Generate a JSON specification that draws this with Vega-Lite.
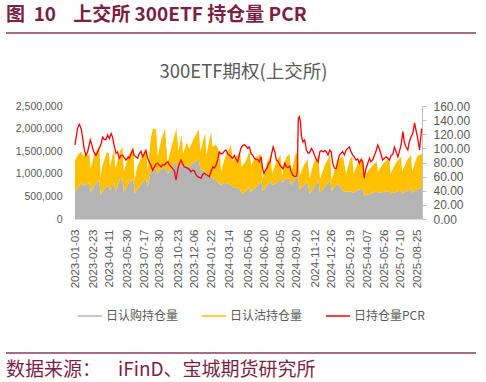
{
  "$schema": "https://vega.github.io/schema/vega-lite/v6.json",
  "background": "white",
  "padding": {"left": 5, "top": 6, "right": 2, "bottom": 1},
  "spacing": 28,
  "datasets": {
    "oi": [
      {"date": "2023-01-03", "日认购持仓量": 600000, "日认沽持仓量": 700000},
      {"date": "2023-01-11", "日认购持仓量": 680000, "日认沽持仓量": 740000},
      {"date": "2023-01-20", "日认购持仓量": 790000, "日认沽持仓量": 700000},
      {"date": "2023-01-26", "日认购持仓量": 740000, "日认沽持仓量": 660000},
      {"date": "2023-02-03", "日认购持仓量": 760000, "日认沽持仓量": 660000},
      {"date": "2023-02-13", "日认购持仓量": 800000, "日认沽持仓量": 620000},
      {"date": "2023-02-16", "日认购持仓量": 600000, "日认沽持仓量": 520000},
      {"date": "2023-02-28", "日认购持仓量": 760000, "日认沽持仓量": 690000},
      {"date": "2023-03-13", "日认购持仓量": 860000, "日认沽持仓量": 740000},
      {"date": "2023-03-16", "日认购持仓量": 515000, "日认沽持仓量": 385000},
      {"date": "2023-03-20", "日认购持仓量": 600000, "日认沽持仓量": 550000},
      {"date": "2023-04-03", "日认购持仓量": 730000, "日认沽持仓量": 750000},
      {"date": "2023-04-09", "日认购持仓量": 740000, "日认沽持仓量": 710000},
      {"date": "2023-04-12", "日认购持仓量": 620000, "日认沽持仓量": 530000},
      {"date": "2023-04-23", "日认购持仓量": 800000, "日认沽持仓量": 760000},
      {"date": "2023-04-27", "日认购持仓量": 600000, "日认沽持仓量": 520000},
      {"date": "2023-05-10", "日认购持仓量": 880000, "日认沽持仓量": 620000},
      {"date": "2023-05-17", "日认购持仓量": 910000, "日认沽持仓量": 690000},
      {"date": "2023-05-21", "日认购持仓量": 600000, "日认沽持仓量": 450000},
      {"date": "2023-06-04", "日认购持仓量": 800000, "日认沽持仓量": 620000},
      {"date": "2023-06-17", "日认购持仓量": 890000, "日认沽持仓量": 710000},
      {"date": "2023-06-20", "日认购持仓量": 560000, "日认沽持仓量": 290000},
      {"date": "2023-06-27", "日认购持仓量": 650000, "日认沽持仓量": 500000},
      {"date": "2023-07-17", "日认购持仓量": 850000, "日认沽持仓量": 650000},
      {"date": "2023-07-22", "日认购持仓量": 900000, "日认沽持仓量": 650000},
      {"date": "2023-07-27", "日认购持仓量": 720000, "日认沽持仓量": 360000},
      {"date": "2023-08-05", "日认购持仓量": 1050000, "日认沽持仓量": 750000},
      {"date": "2023-08-11", "日认购持仓量": 1100000, "日认沽持仓量": 900000},
      {"date": "2023-08-20", "日认购持仓量": 1120000, "日认沽持仓量": 860000},
      {"date": "2023-08-24", "日认购持仓量": 1000000, "日认沽持仓量": 380000},
      {"date": "2023-09-03", "日认购持仓量": 1100000, "日认沽持仓量": 650000},
      {"date": "2023-09-14", "日认购持仓量": 1150000, "日认沽持仓量": 850000},
      {"date": "2023-09-21", "日认购持仓量": 1000000, "日认沽持仓量": 250000},
      {"date": "2023-10-04", "日认购持仓量": 1150000, "日认沽持仓量": 500000},
      {"date": "2023-10-16", "日认购持仓量": 1280000, "日认沽持仓量": 720000},
      {"date": "2023-10-22", "日认购持仓量": 1150000, "日认沽持仓量": 350000},
      {"date": "2023-10-31", "日认购持仓量": 1200000, "日认沽持仓量": 660000},
      {"date": "2023-11-04", "日认购持仓量": 1150000, "日认沽持仓量": 300000},
      {"date": "2023-11-15", "日认购持仓量": 1200000, "日认沽持仓量": 500000},
      {"date": "2023-11-21", "日认购持仓量": 1150000, "日认沽持仓量": 400000},
      {"date": "2023-12-05", "日认购持仓量": 1250000, "日认沽持仓量": 550000},
      {"date": "2023-12-18", "日认购持仓量": 1320000, "日认沽持仓量": 660000},
      {"date": "2023-12-23", "日认购持仓量": 1100000, "日认沽持仓量": 400000},
      {"date": "2024-01-05", "日认购持仓量": 1050000, "日认沽持仓量": 850000},
      {"date": "2024-01-09", "日认购持仓量": 1000000, "日认沽持仓量": 420000},
      {"date": "2024-01-22", "日认购持仓量": 950000, "日认沽持仓量": 980000},
      {"date": "2024-01-26", "日认购持仓量": 900000, "日认沽持仓量": 700000},
      {"date": "2024-02-05", "日认购持仓量": 850000, "日认沽持仓量": 800000},
      {"date": "2024-02-15", "日认购持仓量": 780000, "日认沽持仓量": 670000},
      {"date": "2024-02-19", "日认购持仓量": 760000, "日认沽持仓量": 290000},
      {"date": "2024-03-01", "日认购持仓量": 800000, "日认沽持仓量": 550000},
      {"date": "2024-03-18", "日认购持仓量": 750000, "日认沽持仓量": 890000},
      {"date": "2024-03-23", "日认购持仓量": 700000, "日认沽持仓量": 570000},
      {"date": "2024-04-01", "日认购持仓量": 700000, "日认沽持仓量": 680000},
      {"date": "2024-04-13", "日认购持仓量": 650000, "日认沽持仓量": 800000},
      {"date": "2024-04-17", "日认购持仓量": 560000, "日认沽持仓量": 590000},
      {"date": "2024-04-30", "日认购持仓量": 620000, "日认沽持仓量": 680000},
      {"date": "2024-05-09", "日认购持仓量": 700000, "日认沽持仓量": 800000},
      {"date": "2024-05-14", "日认购持仓量": 600000, "日认沽持仓量": 600000},
      {"date": "2024-05-25", "日认购持仓量": 680000, "日认沽持仓量": 670000},
      {"date": "2024-06-07", "日认购持仓量": 800000, "日认沽持仓量": 620000},
      {"date": "2024-06-12", "日认购持仓量": 860000, "日认沽持仓量": 540000},
      {"date": "2024-06-15", "日认购持仓量": 620000, "日认沽持仓量": 260000},
      {"date": "2024-06-28", "日认购持仓量": 740000, "日认沽持仓量": 510000},
      {"date": "2024-07-08", "日认购持仓量": 850000, "日认沽持仓量": 570000},
      {"date": "2024-07-12", "日认购持仓量": 750000, "日认沽持仓量": 250000},
      {"date": "2024-07-26", "日认购持仓量": 800000, "日认沽持仓量": 500000},
      {"date": "2024-08-05", "日认购持仓量": 900000, "日认沽持仓量": 520000},
      {"date": "2024-08-09", "日认购持仓量": 800000, "日认沽持仓量": 150000},
      {"date": "2024-08-20", "日认购持仓量": 880000, "日认沽持仓量": 470000},
      {"date": "2024-08-30", "日认购持仓量": 900000, "日认沽持仓量": 550000},
      {"date": "2024-09-04", "日认购持仓量": 750000, "日认沽持仓量": 270000},
      {"date": "2024-09-15", "日认购持仓量": 880000, "日认沽持仓量": 520000},
      {"date": "2024-09-23", "日认购持仓量": 970000, "日认沽持仓量": 530000},
      {"date": "2024-09-28", "日认购持仓量": 650000, "日认沽持仓量": 300000},
      {"date": "2024-10-07", "日认购持仓量": 720000, "日认沽持仓量": 430000},
      {"date": "2024-10-20", "日认购持仓量": 830000, "日认沽持仓量": 500000},
      {"date": "2024-10-26", "日认购持仓量": 560000, "日认沽持仓量": 340000},
      {"date": "2024-11-07", "日认购持仓量": 700000, "日认沽持仓量": 550000},
      {"date": "2024-11-20", "日认购持仓量": 860000, "日认沽持仓量": 560000},
      {"date": "2024-11-24", "日认购持仓量": 580000, "日认沽持仓量": 300000},
      {"date": "2024-12-08", "日认购持仓量": 700000, "日认沽持仓量": 500000},
      {"date": "2024-12-23", "日认购持仓量": 860000, "日认沽持仓量": 560000},
      {"date": "2024-12-27", "日认购持仓量": 620000, "日认沽持仓量": 230000},
      {"date": "2025-01-03", "日认购持仓量": 700000, "日认沽持仓量": 350000},
      {"date": "2025-01-14", "日认购持仓量": 780000, "日认沽持仓量": 520000},
      {"date": "2025-01-28", "日认购持仓量": 620000, "日认沽持仓量": 760000},
      {"date": "2025-02-06", "日认购持仓量": 600000, "日认沽持仓量": 400000},
      {"date": "2025-02-17", "日认购持仓量": 620000, "日认沽持仓量": 700000},
      {"date": "2025-02-23", "日认购持仓量": 600000, "日认沽持仓量": 780000},
      {"date": "2025-02-27", "日认购持仓量": 580000, "日认沽持仓量": 420000},
      {"date": "2025-03-12", "日认购持仓量": 640000, "日认沽持仓量": 610000},
      {"date": "2025-03-23", "日认购持仓量": 680000, "日认沽持仓量": 700000},
      {"date": "2025-03-30", "日认购持仓量": 520000, "日认沽持仓量": 380000},
      {"date": "2025-04-03", "日认购持仓量": 530000, "日认沽持仓量": 470000},
      {"date": "2025-04-17", "日认购持仓量": 560000, "日认沽持仓量": 590000},
      {"date": "2025-05-03", "日认购持仓量": 620000, "日认沽持仓量": 650000},
      {"date": "2025-05-07", "日认购持仓量": 580000, "日认沽持仓量": 470000},
      {"date": "2025-05-24", "日认购持仓量": 600000, "日认沽持仓量": 650000},
      {"date": "2025-06-08", "日认购持仓量": 620000, "日认沽持仓量": 720000},
      {"date": "2025-06-11", "日认购持仓量": 560000, "日认沽持仓量": 440000},
      {"date": "2025-06-27", "日认购持仓量": 600000, "日认沽持仓量": 650000},
      {"date": "2025-07-11", "日认购持仓量": 630000, "日认沽持仓量": 750000},
      {"date": "2025-07-14", "日认购持仓量": 560000, "日认沽持仓量": 490000},
      {"date": "2025-07-28", "日认购持仓量": 620000, "日认沽持仓量": 680000},
      {"date": "2025-08-08", "日认购持仓量": 680000, "日认沽持仓量": 740000},
      {"date": "2025-08-11", "日认购持仓量": 580000, "日认沽持仓量": 470000},
      {"date": "2025-08-25", "日认购持仓量": 650000, "日认沽持仓量": 730000},
      {"date": "2025-09-08", "日认购持仓量": 680000, "日认沽持仓量": 770000}
    ],
    "pcr": [
      {"date": "2023-01-03", "日持仓量PCR": 105}, {"date": "2023-01-07", "日持仓量PCR": 118},
      {"date": "2023-01-10", "日持仓量PCR": 128}, {"date": "2023-01-15", "日持仓量PCR": 134},
      {"date": "2023-01-19", "日持仓量PCR": 130}, {"date": "2023-01-21", "日持仓量PCR": 126},
      {"date": "2023-01-26", "日持仓量PCR": 110}, {"date": "2023-01-28", "日持仓量PCR": 102},
      {"date": "2023-01-31", "日持仓量PCR": 95}, {"date": "2023-02-03", "日持仓量PCR": 90},
      {"date": "2023-02-08", "日持仓量PCR": 96}, {"date": "2023-02-12", "日持仓量PCR": 105},
      {"date": "2023-02-15", "日持仓量PCR": 112}, {"date": "2023-02-19", "日持仓量PCR": 106},
      {"date": "2023-02-22", "日持仓量PCR": 100}, {"date": "2023-02-26", "日持仓量PCR": 94},
      {"date": "2023-03-03", "日持仓量PCR": 90}, {"date": "2023-03-08", "日持仓量PCR": 95},
      {"date": "2023-03-12", "日持仓量PCR": 100}, {"date": "2023-03-17", "日持仓量PCR": 105},
      {"date": "2023-03-22", "日持仓量PCR": 116}, {"date": "2023-03-26", "日持仓量PCR": 113},
      {"date": "2023-03-31", "日持仓量PCR": 112}, {"date": "2023-04-05", "日持仓量PCR": 119},
      {"date": "2023-04-10", "日持仓量PCR": 114}, {"date": "2023-04-15", "日持仓量PCR": 121},
      {"date": "2023-04-19", "日持仓量PCR": 116}, {"date": "2023-04-24", "日持仓量PCR": 103},
      {"date": "2023-04-29", "日持仓量PCR": 93}, {"date": "2023-05-03", "日持仓量PCR": 95},
      {"date": "2023-05-08", "日持仓量PCR": 86}, {"date": "2023-05-13", "日持仓量PCR": 90},
      {"date": "2023-05-18", "日持仓量PCR": 90}, {"date": "2023-05-22", "日持仓量PCR": 87},
      {"date": "2023-05-27", "日持仓量PCR": 83.5}, {"date": "2023-06-02", "日持仓量PCR": 88},
      {"date": "2023-06-05", "日持仓量PCR": 86}, {"date": "2023-06-10", "日持仓量PCR": 92},
      {"date": "2023-06-15", "日持仓量PCR": 98}, {"date": "2023-06-19", "日持仓量PCR": 90},
      {"date": "2023-06-24", "日持仓量PCR": 88}, {"date": "2023-06-29", "日持仓量PCR": 86},
      {"date": "2023-07-03", "日持仓量PCR": 92}, {"date": "2023-07-08", "日持仓量PCR": 96},
      {"date": "2023-07-13", "日持仓量PCR": 88}, {"date": "2023-07-18", "日持仓量PCR": 93},
      {"date": "2023-07-22", "日持仓量PCR": 97}, {"date": "2023-07-27", "日持仓量PCR": 86},
      {"date": "2023-08-01", "日持仓量PCR": 80}, {"date": "2023-08-05", "日持仓量PCR": 76.5},
      {"date": "2023-08-10", "日持仓量PCR": 69}, {"date": "2023-08-15", "日持仓量PCR": 74},
      {"date": "2023-08-20", "日持仓量PCR": 78}, {"date": "2023-08-24", "日持仓量PCR": 79},
      {"date": "2023-08-29", "日持仓量PCR": 76}, {"date": "2023-09-03", "日持仓量PCR": 74},
      {"date": "2023-09-07", "日持仓量PCR": 77}, {"date": "2023-09-12", "日持仓量PCR": 76.5},
      {"date": "2023-09-17", "日持仓量PCR": 79}, {"date": "2023-09-22", "日持仓量PCR": 81},
      {"date": "2023-09-26", "日持仓量PCR": 77}, {"date": "2023-10-01", "日持仓量PCR": 74},
      {"date": "2023-10-06", "日持仓量PCR": 71}, {"date": "2023-10-10", "日持仓量PCR": 69},
      {"date": "2023-10-15", "日持仓量PCR": 55}, {"date": "2023-10-20", "日持仓量PCR": 70},
      {"date": "2023-10-24", "日持仓量PCR": 78}, {"date": "2023-10-29", "日持仓量PCR": 83.5},
      {"date": "2023-11-03", "日持仓量PCR": 78}, {"date": "2023-11-07", "日持仓量PCR": 74},
      {"date": "2023-11-12", "日持仓量PCR": 73}, {"date": "2023-11-17", "日持仓量PCR": 72},
      {"date": "2023-11-22", "日持仓量PCR": 70}, {"date": "2023-11-26", "日持仓量PCR": 67},
      {"date": "2023-12-01", "日持仓量PCR": 69}, {"date": "2023-12-06", "日持仓量PCR": 68},
      {"date": "2023-12-10", "日持仓量PCR": 63}, {"date": "2023-12-15", "日持仓量PCR": 60},
      {"date": "2023-12-20", "日持仓量PCR": 59}, {"date": "2023-12-25", "日持仓量PCR": 57.5},
      {"date": "2023-12-29", "日持仓量PCR": 63}, {"date": "2024-01-03", "日持仓量PCR": 64.6},
      {"date": "2024-01-08", "日持仓量PCR": 63}, {"date": "2024-01-12", "日持仓量PCR": 62},
      {"date": "2024-01-17", "日持仓量PCR": 60}, {"date": "2024-01-22", "日持仓量PCR": 68},
      {"date": "2024-01-27", "日持仓量PCR": 74}, {"date": "2024-01-31", "日持仓量PCR": 72},
      {"date": "2024-02-05", "日持仓量PCR": 76}, {"date": "2024-02-10", "日持仓量PCR": 85},
      {"date": "2024-02-14", "日持仓量PCR": 95}, {"date": "2024-02-19", "日持仓量PCR": 92},
      {"date": "2024-02-24", "日持仓量PCR": 93}, {"date": "2024-02-28", "日持仓量PCR": 96},
      {"date": "2024-03-04", "日持仓量PCR": 97.7}, {"date": "2024-03-09", "日持仓量PCR": 92},
      {"date": "2024-03-13", "日持仓量PCR": 90.6}, {"date": "2024-03-18", "日持仓量PCR": 88},
      {"date": "2024-03-23", "日持仓量PCR": 86}, {"date": "2024-03-28", "日持仓量PCR": 90},
      {"date": "2024-04-01", "日持仓量PCR": 85}, {"date": "2024-04-06", "日持仓量PCR": 81},
      {"date": "2024-04-11", "日持仓量PCR": 92}, {"date": "2024-04-15", "日持仓量PCR": 100},
      {"date": "2024-04-20", "日持仓量PCR": 104}, {"date": "2024-04-25", "日持仓量PCR": 105},
      {"date": "2024-04-30", "日持仓量PCR": 103}, {"date": "2024-05-04", "日持仓量PCR": 100},
      {"date": "2024-05-09", "日持仓量PCR": 102}, {"date": "2024-05-14", "日持仓量PCR": 92},
      {"date": "2024-05-18", "日持仓量PCR": 90.6}, {"date": "2024-05-23", "日持仓量PCR": 86},
      {"date": "2024-05-28", "日持仓量PCR": 84}, {"date": "2024-06-02", "日持仓量PCR": 84},
      {"date": "2024-06-06", "日持仓量PCR": 81}, {"date": "2024-06-11", "日持仓量PCR": 88},
      {"date": "2024-06-15", "日持仓量PCR": 72}, {"date": "2024-06-19", "日持仓量PCR": 64.6},
      {"date": "2024-06-24", "日持仓量PCR": 70}, {"date": "2024-06-28", "日持仓量PCR": 72},
      {"date": "2024-07-02", "日持仓量PCR": 79}, {"date": "2024-07-06", "日持仓量PCR": 80},
      {"date": "2024-07-10", "日持仓量PCR": 90.6}, {"date": "2024-07-15", "日持仓量PCR": 102},
      {"date": "2024-07-20", "日持仓量PCR": 95}, {"date": "2024-07-24", "日持仓量PCR": 83.5},
      {"date": "2024-07-29", "日持仓量PCR": 82}, {"date": "2024-08-03", "日持仓量PCR": 76},
      {"date": "2024-08-07", "日持仓量PCR": 74}, {"date": "2024-08-12", "日持仓量PCR": 71},
      {"date": "2024-08-17", "日持仓量PCR": 79}, {"date": "2024-08-21", "日持仓量PCR": 74},
      {"date": "2024-08-26", "日持仓量PCR": 73}, {"date": "2024-08-31", "日持仓量PCR": 75},
      {"date": "2024-09-04", "日持仓量PCR": 67}, {"date": "2024-09-09", "日持仓量PCR": 62},
      {"date": "2024-09-14", "日持仓量PCR": 60}, {"date": "2024-09-19", "日持仓量PCR": 61},
      {"date": "2024-09-21", "日持仓量PCR": 67}, {"date": "2024-09-24", "日持仓量PCR": 142},
      {"date": "2024-09-27", "日持仓量PCR": 145}, {"date": "2024-09-30", "日持仓量PCR": 138},
      {"date": "2024-10-03", "日持仓量PCR": 116.5}, {"date": "2024-10-07", "日持仓量PCR": 109},
      {"date": "2024-10-12", "日持仓量PCR": 112}, {"date": "2024-10-17", "日持仓量PCR": 97.7},
      {"date": "2024-10-22", "日持仓量PCR": 93}, {"date": "2024-10-26", "日持仓量PCR": 94},
      {"date": "2024-10-31", "日持仓量PCR": 100}, {"date": "2024-11-05", "日持仓量PCR": 95.5},
      {"date": "2024-11-09", "日持仓量PCR": 90}, {"date": "2024-11-14", "日持仓量PCR": 84},
      {"date": "2024-11-19", "日持仓量PCR": 81}, {"date": "2024-11-24", "日持仓量PCR": 95.5},
      {"date": "2024-11-28", "日持仓量PCR": 97}, {"date": "2024-12-03", "日持仓量PCR": 95},
      {"date": "2024-12-08", "日持仓量PCR": 97}, {"date": "2024-12-12", "日持仓量PCR": 95},
      {"date": "2024-12-17", "日持仓量PCR": 90.6}, {"date": "2024-12-22", "日持仓量PCR": 97.7},
      {"date": "2024-12-26", "日持仓量PCR": 95}, {"date": "2024-12-30", "日持仓量PCR": 79},
      {"date": "2025-01-04", "日持仓量PCR": 72}, {"date": "2025-01-09", "日持仓量PCR": 71.6},
      {"date": "2025-01-13", "日持仓量PCR": 81}, {"date": "2025-01-18", "日持仓量PCR": 90.6},
      {"date": "2025-01-23", "日持仓量PCR": 93}, {"date": "2025-01-27", "日持仓量PCR": 95.5},
      {"date": "2025-02-01", "日持仓量PCR": 90.6}, {"date": "2025-02-06", "日持仓量PCR": 98},
      {"date": "2025-02-11", "日持仓量PCR": 100}, {"date": "2025-02-15", "日持仓量PCR": 102},
      {"date": "2025-02-20", "日持仓量PCR": 95}, {"date": "2025-02-25", "日持仓量PCR": 90},
      {"date": "2025-03-01", "日持仓量PCR": 88}, {"date": "2025-03-06", "日持仓量PCR": 83.5},
      {"date": "2025-03-11", "日持仓量PCR": 85}, {"date": "2025-03-15", "日持仓量PCR": 79},
      {"date": "2025-03-20", "日持仓量PCR": 84}, {"date": "2025-03-25", "日持仓量PCR": 81},
      {"date": "2025-03-29", "日持仓量PCR": 58}, {"date": "2025-04-03", "日持仓量PCR": 71.6},
      {"date": "2025-04-08", "日持仓量PCR": 79}, {"date": "2025-04-13", "日持仓量PCR": 86},
      {"date": "2025-04-17", "日持仓量PCR": 81}, {"date": "2025-04-22", "日持仓量PCR": 84},
      {"date": "2025-04-27", "日持仓量PCR": 90.6}, {"date": "2025-05-01", "日持仓量PCR": 95.5},
      {"date": "2025-05-06", "日持仓量PCR": 104.8}, {"date": "2025-05-11", "日持仓量PCR": 99},
      {"date": "2025-05-16", "日持仓量PCR": 90.6}, {"date": "2025-05-20", "日持仓量PCR": 83.5},
      {"date": "2025-05-25", "日持仓量PCR": 86}, {"date": "2025-05-30", "日持仓量PCR": 88},
      {"date": "2025-06-03", "日持仓量PCR": 86}, {"date": "2025-06-08", "日持仓量PCR": 83.5},
      {"date": "2025-06-13", "日持仓量PCR": 90}, {"date": "2025-06-18", "日持仓量PCR": 92},
      {"date": "2025-06-22", "日持仓量PCR": 102}, {"date": "2025-06-27", "日持仓量PCR": 95.5},
      {"date": "2025-07-02", "日持仓量PCR": 88}, {"date": "2025-07-06", "日持仓量PCR": 95},
      {"date": "2025-07-11", "日持仓量PCR": 104.8}, {"date": "2025-07-16", "日持仓量PCR": 123.6},
      {"date": "2025-07-20", "日持仓量PCR": 109}, {"date": "2025-07-25", "日持仓量PCR": 102},
      {"date": "2025-07-30", "日持仓量PCR": 97.7}, {"date": "2025-08-03", "日持仓量PCR": 109},
      {"date": "2025-08-08", "日持仓量PCR": 116.5}, {"date": "2025-08-13", "日持仓量PCR": 121},
      {"date": "2025-08-18", "日持仓量PCR": 136}, {"date": "2025-08-22", "日持仓量PCR": 126},
      {"date": "2025-08-27", "日持仓量PCR": 114}, {"date": "2025-09-01", "日持仓量PCR": 97.7},
      {"date": "2025-09-03", "日持仓量PCR": 108}, {"date": "2025-09-07", "日持仓量PCR": 128}
    ]
  },
  "vconcat": [
    {
      "width": 470,
      "height": 1,
      "title": {"text": "图\u00a0\u00a010\u00a0\u00a0\u00a0\u00a0上交所\u00a0300ETF\u00a0持仓量\u00a0PCR", "anchor": "start", "frame": "group", "color": "#7b1f45", "fontSize": 19, "fontWeight": "bold", "font": "Noto Sans CJK SC", "offset": 7},
      "data": {"values": [{}]},
      "mark": {"type": "rule", "color": "#8c3a5c", "strokeWidth": 1.5},
      "encoding": {"y": {"datum": 1, "type": "quantitative", "scale": {"domain": [0, 1]}, "axis": null}}
    },
    {
      "spacing": 0,
      "hconcat": [
        {
          "width": 1,
          "height": 113,
          "data": {"values": [{}]},
          "mark": {"type": "text", "text": ""}
        },
        {
          "width": 347,
          "height": 113,
          "title": {"text": "300ETF期权(上交所)", "color": "#595959", "fontSize": 18.5, "fontWeight": "normal", "font": "Noto Sans CJK SC", "offset": 19, "anchor": "middle", "dx": -5},
          "encoding": {
            "x": {
              "field": "date", "type": "temporal", "scale": {"type": "utc"},
              "axis": {
                "title": null,
                "values": [
                  {"year": 2023, "month": 1, "date": 3, "utc": true},
                  {"year": 2023, "month": 2, "date": 23, "utc": true},
                  {"year": 2023, "month": 4, "date": 11, "utc": true},
                  {"year": 2023, "month": 5, "date": 30, "utc": true},
                  {"year": 2023, "month": 7, "date": 17, "utc": true},
                  {"year": 2023, "month": 8, "date": 30, "utc": true},
                  {"year": 2023, "month": 10, "date": 23, "utc": true},
                  {"year": 2023, "month": 12, "date": 6, "utc": true},
                  {"year": 2024, "month": 1, "date": 22, "utc": true},
                  {"year": 2024, "month": 3, "date": 14, "utc": true},
                  {"year": 2024, "month": 5, "date": 6, "utc": true},
                  {"year": 2024, "month": 6, "date": 20, "utc": true},
                  {"year": 2024, "month": 8, "date": 5, "utc": true},
                  {"year": 2024, "month": 9, "date": 20, "utc": true},
                  {"year": 2024, "month": 11, "date": 12, "utc": true},
                  {"year": 2024, "month": 12, "date": 26, "utc": true},
                  {"year": 2025, "month": 2, "date": 19, "utc": true},
                  {"year": 2025, "month": 4, "date": 7, "utc": true},
                  {"year": 2025, "month": 5, "date": 26, "utc": true},
                  {"year": 2025, "month": 7, "date": 10, "utc": true},
                  {"year": 2025, "month": 8, "date": 25, "utc": true}
                ],
                "format": "%Y-%m-%d",
                "labelAngle": -90,
                "labelOverlap": false,
                "labelFlush": false,
                "labelFontSize": 11.5,
                "labelPadding": 10,
                "ticks": false,
                "domain": true,
                "domainColor": "#d9d9d9",
                "grid": false
              }
            }
          },
          "layer": [
            {
              "data": {"name": "oi"},
              "transform": [{"fold": ["日认购持仓量", "日认沽持仓量"], "as": ["series", "value"]}],
              "mark": {"type": "area", "opacity": 1, "interpolate": "linear"},
              "encoding": {
                "y": {
                  "field": "value", "type": "quantitative", "stack": "zero",
                  "scale": {"domain": [0, 2500000], "nice": false},
                  "axis": {"title": null, "values": [0, 500000, 1000000, 1500000, 2000000, 2500000], "format": ",.0f", "domain": false, "ticks": false, "grid": false, "labelFontSize": 10.5, "labelPadding": 13, "minExtent": 68}
                },
                "color": {
                  "field": "series", "type": "nominal",
                  "scale": {"domain": ["日认购持仓量", "日认沽持仓量", "日持仓量PCR"], "range": ["#b4b4b4", "#ffc000", "#ff0000"]},
                  "legend": {
                    "title": null, "orient": "bottom", "direction": "horizontal",
                    "labelFont": "Noto Sans CJK SC", "labelFontSize": 12, "labelColor": "#595959",
                    "symbolType": "stroke", "symbolSize": 576, "columnPadding": 20, "labelOffset": 3, "offset": 13, "padding": 2,
                    "encode": {
                      "symbols": {
                        "update": {
                          "stroke": {"signal": "datum.value === '日认购持仓量' ? '#b4b4b4' : datum.value === '日认沽持仓量' ? '#ffc000' : '#ff0000'"},
                          "strokeWidth": {"signal": "datum.value === '日持仓量PCR' ? 1.5 : 6"},
                          "fill": {"value": "transparent"},
                          "opacity": {"value": 1}
                        }
                      }
                    }
                  }
                },
                "order": {"field": "series", "sort": "descending"}
              }
            },
            {
              "data": {"name": "pcr"},
              "mark": {"type": "line", "strokeWidth": 1.3, "interpolate": "linear"},
              "encoding": {
                "y": {
                  "field": "日持仓量PCR", "type": "quantitative",
                  "scale": {"domain": [0, 160], "nice": false},
                  "axis": {"orient": "right", "title": null, "values": [0, 20, 40, 60, 80, 100, 120, 140, 160], "format": ".2f", "domain": true, "domainColor": "#bfbfbf", "ticks": true, "tickColor": "#bfbfbf", "tickSize": 4, "grid": false, "labelFontSize": 12, "labelPadding": 7}
                },
                "color": {"datum": "日持仓量PCR"}
              }
            }
          ],
          "resolve": {"scale": {"y": "independent"}}
        }
      ],
      "resolve": {"scale": {"color": "independent"}, "legend": {"color": "independent"}}
    },
    {
      "width": 470,
      "height": 1,
      "title": {"text": "数据来源：\u00a0\u00a0\u00a0\u00a0iFinD、宝城期货研究所", "orient": "bottom", "anchor": "start", "frame": "group", "color": "#7b1f45", "fontSize": 19, "fontWeight": "normal", "font": "Noto Sans CJK SC", "offset": 7},
      "data": {"values": [{}]},
      "mark": {"type": "rule", "color": "#8c3a5c", "strokeWidth": 1.5},
      "encoding": {"y": {"datum": 1, "type": "quantitative", "scale": {"domain": [0, 1]}, "axis": null}}
    }
  ],
  "resolve": {"scale": {"color": "independent"}, "legend": {"color": "independent"}},
  "config": {
    "view": {"stroke": null},
    "axis": {"labelFont": "Liberation Sans", "labelColor": "#595959"},
    "legend": {"labelFont": "Noto Sans CJK SC"}
  }
}
